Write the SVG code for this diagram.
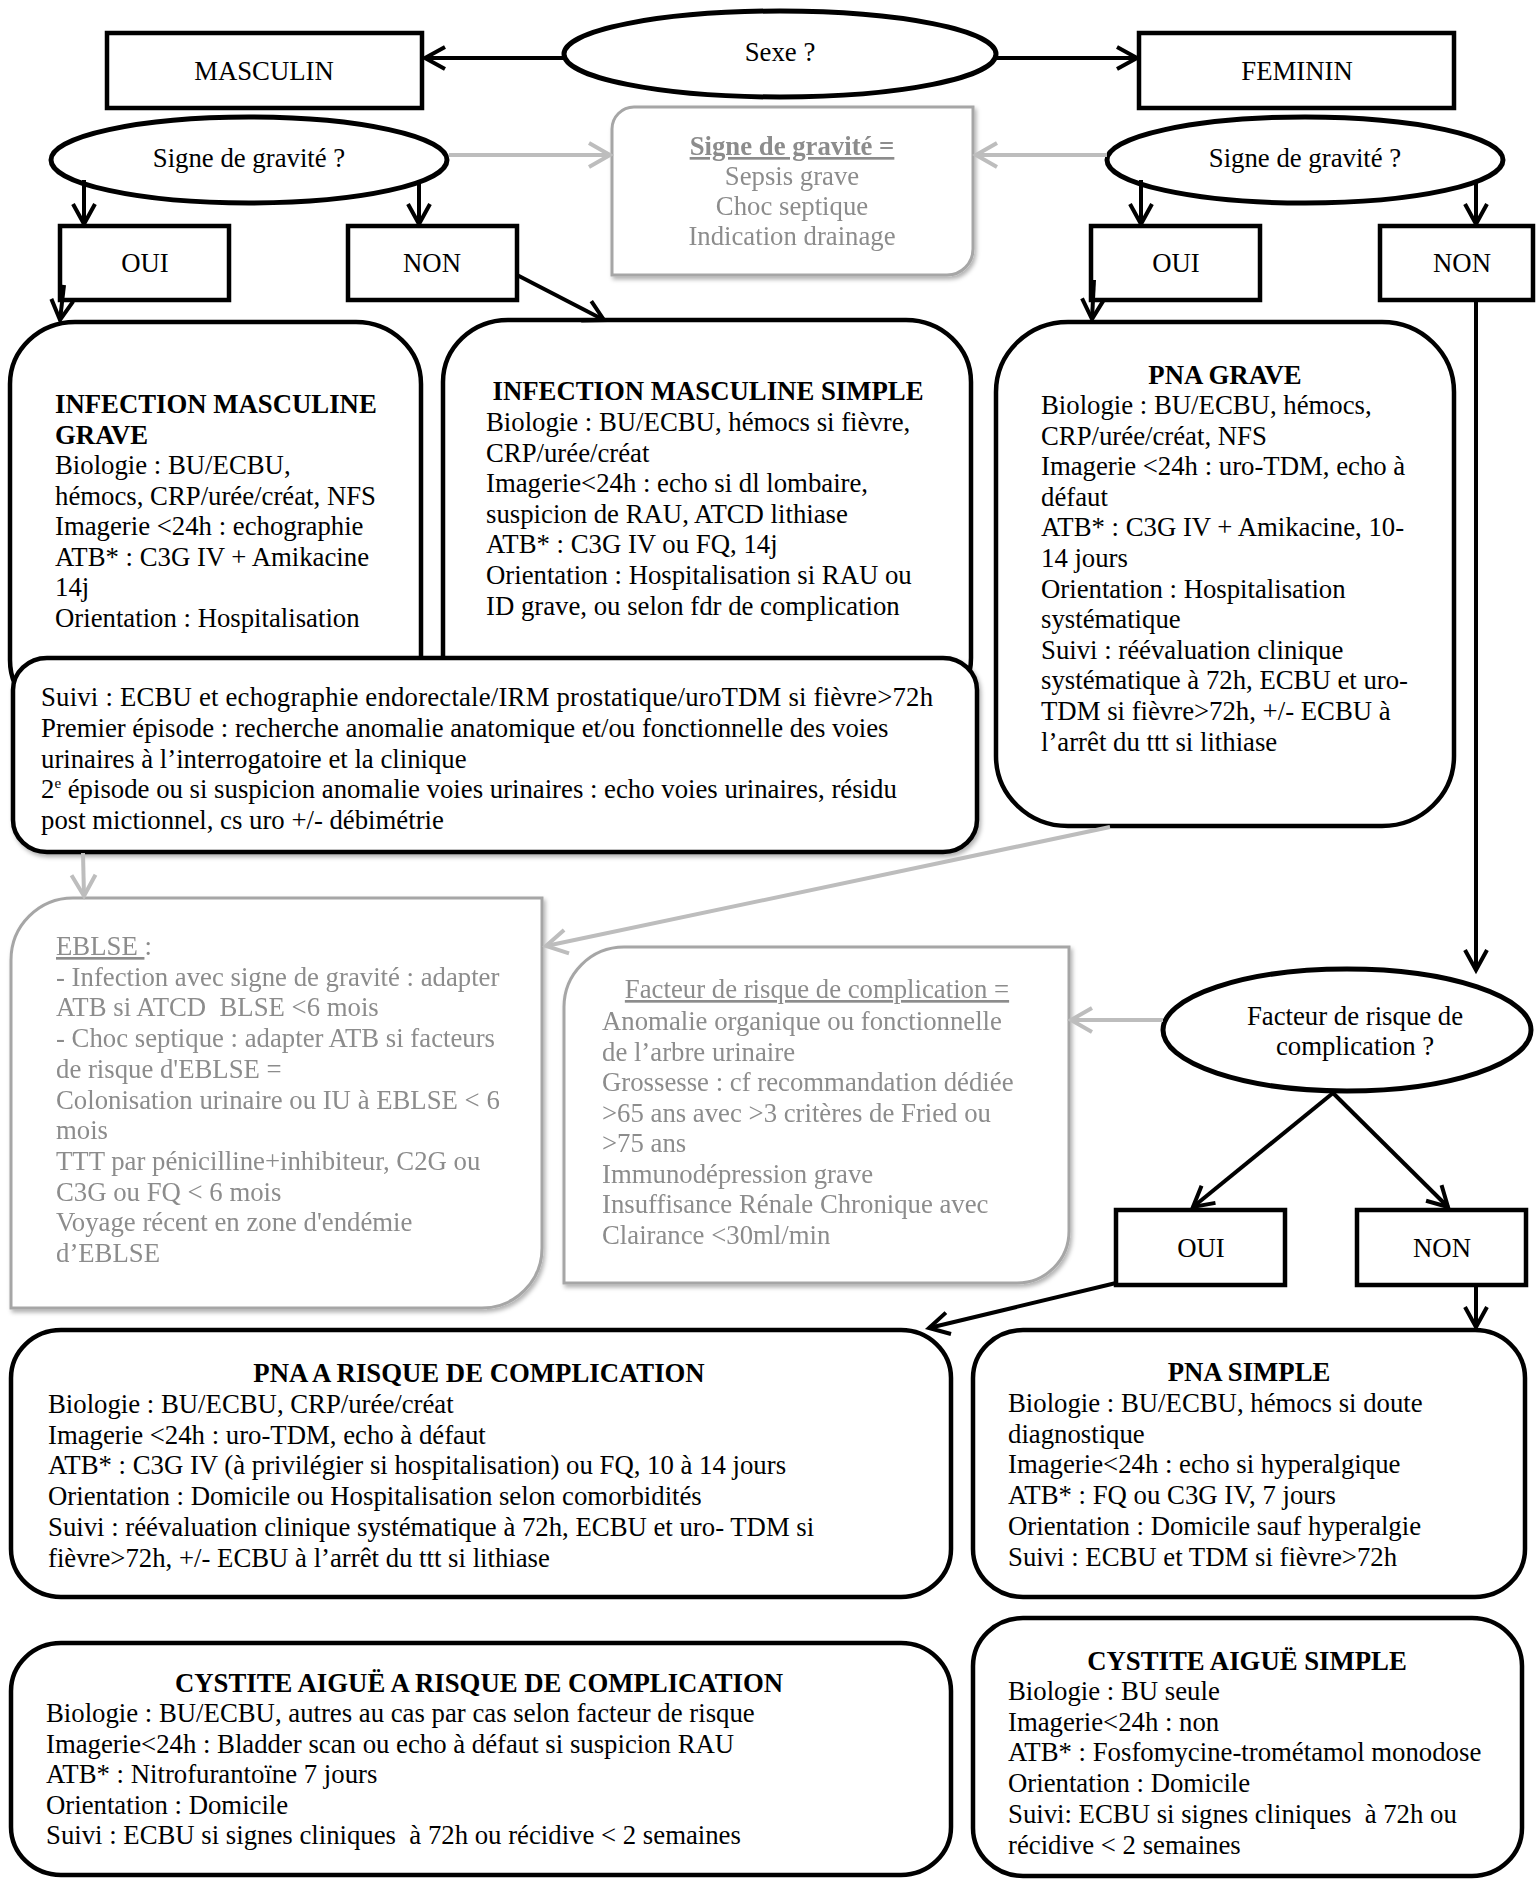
<svg xmlns="http://www.w3.org/2000/svg" width="1536" height="1880" viewBox="0 0 1536 1880">
<style>
text{font-family:"Liberation Serif","Times New Roman",serif;font-size:26.75px;fill:#000}
.b{font-weight:bold}
.g{fill:#8c8c8c}
.m{text-anchor:middle}
.u{text-decoration:underline}
.box{fill:#fff;stroke:#000;stroke-width:4.5}
.ell{fill:#fff;stroke:#000;stroke-width:5}
.gbox{fill:#fff;stroke:#a6a6a6;stroke-width:3}
.ar{fill:none;stroke:#000;stroke-width:4}
.gar{fill:none;stroke:#bdbdbd;stroke-width:4}
</style>
<defs>
<marker id="ah" markerUnits="userSpaceOnUse" markerWidth="40" markerHeight="40" refX="0" refY="0" orient="auto" overflow="visible">
<path d="M-20,-11 L0,0 L-20,11" fill="none" stroke="#000" stroke-width="4" stroke-linejoin="miter"/>
</marker>
<marker id="gah" markerUnits="userSpaceOnUse" markerWidth="40" markerHeight="40" refX="0" refY="0" orient="auto" overflow="visible">
<path d="M-21,-12 L0,0 L-21,12" fill="none" stroke="#bdbdbd" stroke-width="4"/>
</marker>
<filter id="sh" x="-5%" y="-5%" width="115%" height="115%">
<feDropShadow dx="2" dy="3" stdDeviation="2" flood-color="#000" flood-opacity="0.3"/>
</filter>
<clipPath id="clipSuivi"><rect x="13" y="660" width="964" height="177"/></clipPath>
</defs>

<g id="sexe">
<ellipse class="ell" cx="780" cy="54" rx="216" ry="43"/>
<text class="m" x="780" y="61">Sexe ?</text>
</g>
<g id="masculin">
<rect class="box" x="107" y="33" width="315" height="75"/>
<text class="m" x="264" y="80">MASCULIN</text>
</g>
<g id="feminin">
<rect class="box" x="1139" y="33" width="315" height="75"/>
<text class="m" x="1297" y="80">FEMININ</text>
</g>
<g id="gravite-m">
<ellipse class="ell" cx="249" cy="160" rx="198" ry="43"/>
<text class="m" x="249" y="167">Signe de gravité ?</text>
</g>
<g id="gravite-f">
<ellipse class="ell" cx="1305" cy="160" rx="198" ry="43"/>
<text class="m" x="1305" y="167">Signe de gravité ?</text>
</g>
<g id="signe-def" filter="url(#sh)">
<path class="gbox" d="M634,107 H973 V249 A26 26 0 0 1 947,275 H612 V129 A22 22 0 0 1 634,107 Z"/>
<text class="m g b u" x="792" y="155">Signe de gravité =</text>
<text class="m g" x="792" y="185">Sepsis grave</text>
<text class="m g" x="792" y="215">Choc septique</text>
<text class="m g" x="792" y="245">Indication drainage</text>
</g>
<g id="oui-m">
<rect class="box" x="60" y="226" width="169" height="74"/>
<text class="m" x="145" y="272">OUI</text>
</g>
<g id="non-m">
<rect class="box" x="348" y="226" width="169" height="74"/>
<text class="m" x="432" y="272">NON</text>
</g>
<g id="oui-f">
<rect class="box" x="1091" y="226" width="169" height="74"/>
<text class="m" x="1176" y="272">OUI</text>
</g>
<g id="non-f">
<rect class="box" x="1380" y="226" width="153" height="74"/>
<text class="m" x="1462" y="272">NON</text>
</g>

<g id="inf-masc-grave">
<rect class="box" x="10" y="322" width="411" height="400" rx="65" ry="62"/>
<text class="b" x="55" y="413">INFECTION MASCULINE</text>
<text class="b" x="55" y="443.5">GRAVE</text>
<text x="55" y="474">Biologie : BU/ECBU,</text>
<text x="55" y="504.5">hémocs, CRP/urée/créat, NFS</text>
<text x="55" y="535">Imagerie &lt;24h : echographie</text>
<text x="55" y="565.5">ATB* : C3G IV + Amikacine</text>
<text x="55" y="596">14j</text>
<text x="55" y="626.5">Orientation : Hospitalisation</text>
</g>
<g id="inf-masc-simple">
<rect class="box" x="443" y="320" width="528" height="400" rx="65" ry="62"/>
<text class="b m" x="708" y="400">INFECTION MASCULINE SIMPLE</text>
<text x="486" y="431">Biologie : BU/ECBU, hémocs si fièvre,</text>
<text x="486" y="461.6">CRP/urée/créat</text>
<text x="486" y="492.2">Imagerie&lt;24h : echo si dl lombaire,</text>
<text x="486" y="522.8">suspicion de RAU, ATCD lithiase</text>
<text x="486" y="553.4">ATB* : C3G IV ou FQ, 14j</text>
<text x="486" y="584">Orientation : Hospitalisation si RAU ou</text>
<text x="486" y="614.6">ID grave, ou selon fdr de complication</text>
</g>
<g id="suivi-masc">
<rect class="box" x="13" y="658" width="964" height="194" rx="34" ry="32" filter="url(#sh)"/>
<g clip-path="url(#clipSuivi)">
<text x="41" y="706" textLength="892" lengthAdjust="spacing">Suivi : ECBU et echographie endorectale/IRM prostatique/uroTDM si fièvre&gt;72h</text>
<text x="41" y="736.8">Premier épisode : recherche anomalie anatomique et/ou fonctionnelle des voies</text>
<text x="41" y="767.6">urinaires à l’interrogatoire et la clinique</text>
<text x="41" y="798.4">2<tspan font-size="15" dy="-10">e</tspan><tspan dy="10"> épisode ou si suspicion anomalie voies urinaires : echo voies urinaires, résidu</tspan></text>
<text x="41" y="829.2">post mictionnel, cs uro +/- débimétrie</text>
</g>
</g>
<g id="pna-grave">
<rect class="box" x="996" y="322" width="458" height="504" rx="72" ry="70"/>
<text class="b m" x="1225" y="384">PNA GRAVE</text>
<text x="1041" y="414">Biologie : BU/ECBU, hémocs,</text>
<text x="1041" y="444.6">CRP/urée/créat, NFS</text>
<text x="1041" y="475.2">Imagerie &lt;24h : uro-TDM, echo à</text>
<text x="1041" y="505.8">défaut</text>
<text x="1041" y="536.4">ATB* : C3G IV + Amikacine, 10-</text>
<text x="1041" y="567">14 jours</text>
<text x="1041" y="597.6">Orientation : Hospitalisation</text>
<text x="1041" y="628.2">systématique</text>
<text x="1041" y="658.8">Suivi : réévaluation clinique</text>
<text x="1041" y="689.4">systématique à 72h, ECBU et uro-</text>
<text x="1041" y="720">TDM si fièvre&gt;72h, +/- ECBU à</text>
<text x="1041" y="750.6">l’arrêt du ttt si lithiase</text>
</g>
<g id="eblse" filter="url(#sh)">
<path class="gbox" d="M73,898 H542 V1248 A60 60 0 0 1 482,1308 H11 V960 A62 62 0 0 1 73,898 Z"/>
<text class="g" x="56" y="955" xml:space="preserve"><tspan class="u">EBLSE </tspan>:</text>
<text class="g" x="56" y="985.7">- Infection avec signe de gravité : adapter</text>
<text class="g" x="56" y="1016.4" xml:space="preserve">ATB si ATCD  BLSE &lt;6 mois</text>
<text class="g" x="56" y="1047.1">- Choc septique : adapter ATB si facteurs</text>
<text class="g" x="56" y="1077.8">de risque d'EBLSE =</text>
<text class="g" x="56" y="1108.5">Colonisation urinaire ou IU à EBLSE &lt; 6</text>
<text class="g" x="56" y="1139.2">mois</text>
<text class="g" x="56" y="1169.9">TTT par pénicilline+inhibiteur, C2G ou</text>
<text class="g" x="56" y="1200.6">C3G ou FQ &lt; 6 mois</text>
<text class="g" x="56" y="1231.3">Voyage récent en zone d'endémie</text>
<text class="g" x="56" y="1262">d’EBLSE</text>
</g>
<g id="facteur-def" filter="url(#sh)">
<path class="gbox" d="M624,947 H1069 V1231 A52 52 0 0 1 1017,1283 H564 V1007 A60 60 0 0 1 624,947 Z"/>
<text class="g m u" x="817" y="998">Facteur de risque de complication =</text>
<text class="g" x="602" y="1030">Anomalie organique ou fonctionnelle</text>
<text class="g" x="602" y="1060.5">de l’arbre urinaire</text>
<text class="g" x="602" y="1091">Grossesse : cf recommandation dédiée</text>
<text class="g" x="602" y="1121.5">&gt;65 ans avec &gt;3 critères de Fried ou</text>
<text class="g" x="602" y="1152">&gt;75 ans</text>
<text class="g" x="602" y="1182.5">Immunodépression grave</text>
<text class="g" x="602" y="1213">Insuffisance Rénale Chronique avec</text>
<text class="g" x="602" y="1243.5">Clairance &lt;30ml/min</text>
</g>
<g id="facteur">
<ellipse class="ell" cx="1347" cy="1030" rx="184" ry="61"/>
<text class="m" x="1355" y="1025">Facteur de risque de</text>
<text class="m" x="1355" y="1055">complication ?</text>
</g>
<g id="oui-fr">
<rect class="box" x="1116" y="1210" width="169" height="75"/>
<text class="m" x="1201" y="1257">OUI</text>
</g>
<g id="non-fr">
<rect class="box" x="1357" y="1210" width="169" height="75"/>
<text class="m" x="1442" y="1257">NON</text>
</g>
<g id="pna-risque">
<rect class="box" x="11" y="1330" width="940" height="267" rx="50" ry="48"/>
<text class="b m" x="479" y="1382">PNA A RISQUE DE COMPLICATION</text>
<text x="48" y="1413">Biologie : BU/ECBU, CRP/urée/créat</text>
<text x="48" y="1443.7">Imagerie &lt;24h : uro-TDM, echo à défaut</text>
<text x="48" y="1474.4">ATB* : C3G IV (à privilégier si hospitalisation) ou FQ, 10 à 14 jours</text>
<text x="48" y="1505.1">Orientation : Domicile ou Hospitalisation selon comorbidités</text>
<text x="48" y="1535.8">Suivi : réévaluation clinique systématique à 72h, ECBU et uro- TDM si</text>
<text x="48" y="1566.5">fièvre&gt;72h, +/- ECBU à l’arrêt du ttt si lithiase</text>
</g>
<g id="pna-simple">
<rect class="box" x="973" y="1330" width="552" height="267" rx="50" ry="48"/>
<text class="b m" x="1249" y="1381">PNA SIMPLE</text>
<text x="1008" y="1412">Biologie : BU/ECBU, hémocs si doute</text>
<text x="1008" y="1442.7">diagnostique</text>
<text x="1008" y="1473.4">Imagerie&lt;24h : echo si hyperalgique</text>
<text x="1008" y="1504.1">ATB* : FQ ou C3G IV, 7 jours</text>
<text x="1008" y="1534.8">Orientation : Domicile sauf hyperalgie</text>
<text x="1008" y="1565.5">Suivi : ECBU et TDM si fièvre&gt;72h</text>
</g>
<g id="cystite-risque">
<rect class="box" x="11" y="1643" width="940" height="232" rx="50" ry="48"/>
<text class="b m" x="479" y="1692">CYSTITE AIGUË A RISQUE DE COMPLICATION</text>
<text x="46" y="1722">Biologie : BU/ECBU, autres au cas par cas selon facteur de risque</text>
<text x="46" y="1752.6">Imagerie&lt;24h : Bladder scan ou echo à défaut si suspicion RAU</text>
<text x="46" y="1783.2">ATB* : Nitrofurantoïne 7 jours</text>
<text x="46" y="1813.8">Orientation : Domicile</text>
<text x="46" y="1844.4" xml:space="preserve">Suivi : ECBU si signes cliniques  à 72h ou récidive &lt; 2 semaines</text>
</g>
<g id="cystite-simple">
<rect class="box" x="973" y="1618" width="549" height="258" rx="50" ry="48"/>
<text class="b m" x="1247" y="1670">CYSTITE AIGUË SIMPLE</text>
<text x="1008" y="1700">Biologie : BU seule</text>
<text x="1008" y="1730.7">Imagerie&lt;24h : non</text>
<text x="1008" y="1761.4">ATB* : Fosfomycine-trométamol monodose</text>
<text x="1008" y="1792.1">Orientation : Domicile</text>
<text x="1008" y="1822.8" xml:space="preserve">Suivi: ECBU si signes cliniques  à 72h ou</text>
<text x="1008" y="1853.5">récidive &lt; 2 semaines</text>
</g>

<g id="connectors">
<line class="ar" x1="564" y1="58" x2="425" y2="58" marker-end="url(#ah)"/>
<line class="ar" x1="996" y1="58" x2="1137" y2="58" marker-end="url(#ah)"/>
<line class="gar" x1="449" y1="155" x2="610" y2="155" marker-end="url(#gah)"/>
<line class="gar" x1="1107" y1="155" x2="976" y2="155" marker-end="url(#gah)"/>
<line class="ar" x1="84" y1="180" x2="84" y2="224" marker-end="url(#ah)"/>
<line class="ar" x1="419" y1="180" x2="419" y2="224" marker-end="url(#ah)"/>
<line class="ar" x1="1141" y1="180" x2="1141" y2="224" marker-end="url(#ah)"/>
<line class="ar" x1="1476" y1="180" x2="1476" y2="224" marker-end="url(#ah)"/>
<line class="ar" x1="64" y1="285" x2="60" y2="320" marker-end="url(#ah)"/>
<line class="ar" x1="517" y1="275" x2="604" y2="320" marker-end="url(#ah)"/>
<line class="ar" x1="1094" y1="280" x2="1092" y2="319" marker-end="url(#ah)"/>
<line class="ar" x1="1476" y1="300" x2="1476" y2="970" marker-end="url(#ah)"/>
<line class="gar" x1="83" y1="853" x2="84" y2="896" marker-end="url(#gah)"/>
<line class="gar" x1="1110" y1="827" x2="546" y2="946" marker-end="url(#gah)"/>
<line class="gar" x1="1163" y1="1020" x2="1071" y2="1020" marker-end="url(#gah)"/>
<line class="ar" x1="1333" y1="1093" x2="1193" y2="1207" marker-end="url(#ah)"/>
<line class="ar" x1="1333" y1="1093" x2="1448" y2="1207" marker-end="url(#ah)"/>
<line class="ar" x1="1116" y1="1283" x2="929" y2="1328" marker-end="url(#ah)"/>
<line class="ar" x1="1476" y1="1285" x2="1476" y2="1327" marker-end="url(#ah)"/>
</g>
</svg>
